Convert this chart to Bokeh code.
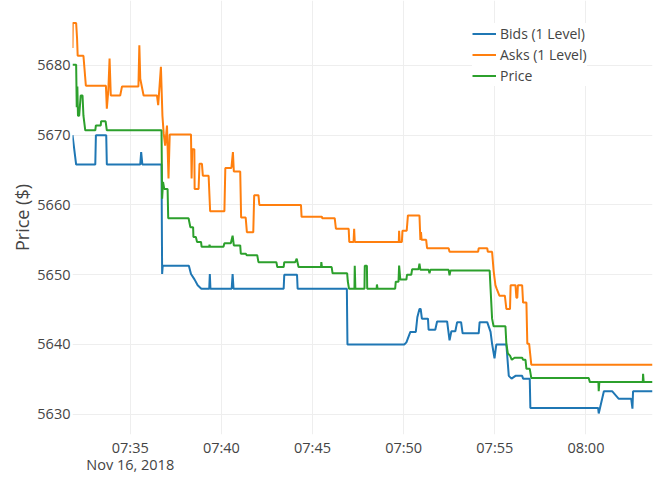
import pandas as pd
from bokeh.plotting import figure
from bokeh.models import Range1d, FixedTicker, Legend, LegendItem
from bokeh.embed import file_html
from bokeh.resources import INLINE

DATE = "2018-11-16"

bid_times = ["07:31:50","07:32:02","07:33:05","07:33:07","07:33:41","07:33:43","07:35:33","07:35:36","07:35:40","07:36:43",
             "07:36:45","07:36:47","07:38:13","07:38:20","07:38:32","07:38:42","07:38:54","07:39:20","07:39:22","07:39:24",
             "07:40:34","07:40:37","07:40:40","07:43:25","07:43:27","07:44:09","07:44:11","07:46:53","07:46:55","07:50:02",
             "07:50:09","07:50:22","07:50:40","07:50:45","07:50:52","07:50:56","07:51:00","07:51:20","07:51:22","07:51:44",
             "07:51:50","07:52:23","07:52:31","07:52:37","07:52:50","07:52:56","07:53:09","07:53:14","07:54:07","07:54:10",
             "07:54:35","07:54:46","07:54:51","07:54:59","07:55:05","07:55:38","07:55:46","07:55:55","07:56:08","07:56:30",
             "07:56:33","07:56:55","07:56:57","08:00:40","08:00:42","08:00:59","08:01:26","08:01:48","08:02:29","08:02:33",
             "08:02:35","08:03:39"]
bid_values = [5670.0,5665.8,5665.8,5670.0,5670.0,5665.8,5665.8,5667.6,5665.8,5665.8,
              5650.1,5651.3,5651.3,5650.1,5649.3,5648.5,5648.0,5648.0,5650.1,5648.0,
              5648.0,5650.1,5648.0,5648.0,5650.0,5650.0,5648.0,5648.0,5640.0,5640.0,
              5640.3,5641.8,5641.8,5643.9,5645.1,5645.1,5643.7,5643.7,5642.1,5642.1,
              5643.3,5643.3,5640.6,5641.9,5641.9,5643.2,5643.2,5641.6,5641.6,5643.2,
              5643.2,5641.8,5640.1,5638.0,5640.0,5640.0,5635.5,5635.1,5635.5,5635.5,
              5635.1,5635.1,5630.9,5630.9,5630.1,5633.3,5633.3,5632.2,5632.2,5630.8,
              5633.3,5633.3]

ask_times = ["07:31:50","07:31:51","07:32:02","07:32:05","07:32:07","07:32:26","07:32:34","07:33:40","07:33:43","07:33:48",
             "07:33:52","07:33:56","07:34:27","07:34:33","07:35:27","07:35:30","07:35:33","07:35:44","07:36:28","07:36:32",
             "07:36:41","07:36:46","07:36:50","07:36:55","07:37:01","07:37:06","07:37:10","07:38:20","07:38:22","07:38:24",
             "07:38:31","07:38:32","07:38:45","07:38:48","07:38:56","07:38:59","07:39:18","07:39:23","07:40:10","07:40:13",
             "07:40:33","07:40:38","07:40:41","07:41:02","07:41:05","07:41:20","07:41:24","07:41:45","07:41:48","07:42:02",
             "07:42:05","07:44:22","07:44:24","07:45:31","07:45:32","07:46:13","07:46:17","07:46:59","07:47:01","07:47:15",
             "07:47:17","07:47:19","07:49:44","07:49:45","07:49:47","07:49:54","07:49:56","07:50:10","07:50:14","07:50:52",
             "07:50:55","07:50:57","07:50:59","07:51:14","07:51:17","07:52:28","07:52:31","07:54:05","07:54:07","07:54:35",
             "07:54:37","07:54:51","07:54:56","07:55:02","07:55:06","07:55:15","07:55:33","07:55:38","07:55:50","07:55:52",
             "07:56:08","07:56:11","07:56:14","07:56:16","07:56:30","07:56:33","07:56:44","07:56:47","07:56:53","07:57:00",
             "08:03:39"]
ask_values = [5682.5,5686.1,5686.1,5683.9,5681.4,5681.4,5677.1,5677.1,5673.8,5676.5,
              5681.0,5675.7,5675.7,5677.0,5677.0,5682.9,5678.1,5675.7,5675.7,5674.3,
              5679.8,5672.8,5670.3,5668.5,5671.4,5663.8,5670.1,5670.1,5663.8,5668.0,
              5668.0,5662.3,5662.3,5665.9,5665.9,5664.2,5664.2,5659.1,5659.1,5665.3,
              5665.3,5667.6,5664.8,5664.8,5658.2,5658.2,5656.1,5656.1,5661.4,5661.4,
              5660.0,5660.0,5658.3,5658.3,5658.1,5658.1,5656.6,5656.6,5654.7,5654.7,
              5656.6,5654.7,5654.7,5656.3,5654.7,5654.7,5656.3,5656.3,5658.5,5658.5,
              5655.0,5656.1,5655.0,5655.0,5653.8,5653.8,5653.3,5653.3,5653.8,5653.8,
              5653.3,5653.3,5650.6,5648.5,5648.0,5647.0,5647.0,5645.1,5645.1,5648.5,
              5648.5,5646.7,5646.7,5648.5,5648.5,5646.0,5646.0,5640.1,5640.1,5637.1,
              5637.1]

price_times = ["07:31:50","07:32:02","07:32:04","07:32:06","07:32:08","07:32:12","07:32:17","07:32:23","07:32:26","07:32:32",
               "07:33:05","07:33:07","07:33:23","07:33:24","07:33:39","07:33:43","07:36:43","07:36:45","07:36:48","07:36:52",
               "07:37:03","07:37:05","07:38:12","07:38:18","07:38:27","07:38:28","07:38:36","07:38:40","07:38:53","07:38:55",
               "07:39:20","07:39:21","07:39:23","07:40:07","07:40:10","07:40:31","07:40:37","07:40:41","07:41:02","07:41:04",
               "07:41:21","07:41:23","07:41:58","07:42:02","07:43:01","07:43:04","07:43:25","07:43:27","07:44:03","07:44:08",
               "07:44:14","07:45:28","07:45:29","07:45:31","07:46:03","07:46:06","07:46:54","07:46:56","07:47:00","07:47:18",
               "07:47:19","07:47:21","07:47:51","07:47:52","07:47:59","07:48:00","07:48:31","07:48:32","07:48:34","07:49:32",
               "07:49:34","07:49:43","07:49:45","07:49:49","07:50:09","07:50:11","07:50:25","07:50:28","07:50:49","07:50:52",
               "07:50:55","07:51:22","07:51:25","07:51:28","07:52:28","07:52:31","07:52:34","07:54:43","07:54:46","07:54:51",
               "07:54:56","07:55:35","07:55:38","07:55:43","07:55:50","07:55:56","07:56:05","07:56:30","07:56:33","07:56:41",
               "07:56:44","07:56:55","07:57:00","08:00:09","08:00:13","08:00:41","08:00:42","08:00:44","08:03:07","08:03:08",
               "08:03:10","08:03:39"]
price_values = [5680.1,5680.1,5674.0,5677.0,5672.8,5672.8,5675.7,5675.7,5672.8,5670.7,
                5670.7,5671.4,5671.4,5672.0,5672.0,5670.7,5670.7,5660.9,5663.3,5662.3,
                5662.3,5658.1,5658.1,5656.8,5656.8,5655.4,5655.4,5654.7,5654.7,5654.0,
                5654.0,5654.3,5654.0,5654.0,5654.5,5654.5,5655.6,5654.2,5654.2,5653.0,
                5653.0,5652.8,5652.8,5651.8,5651.8,5651.1,5651.1,5651.8,5651.8,5652.3,
                5651.1,5651.1,5651.8,5651.1,5651.1,5650.2,5650.2,5649.1,5648.0,5648.0,
                5651.3,5648.0,5648.0,5651.3,5651.3,5648.0,5648.0,5648.6,5648.0,5648.0,
                5649.0,5649.0,5651.3,5649.3,5649.3,5650.0,5650.0,5650.8,5650.8,5651.6,
                5650.7,5650.7,5650.2,5650.7,5650.7,5649.9,5650.6,5650.6,5648.0,5643.7,
                5642.6,5642.6,5640.1,5638.7,5638.4,5637.8,5638.1,5638.1,5637.8,5637.8,
                5636.5,5636.5,5635.2,5635.2,5634.6,5634.6,5633.3,5634.6,5634.6,5635.8,
                5634.6,5634.6]

x_tick_times = ["07:35", "07:40", "07:45", "07:50", "07:55", "08:00"]
x_tick_labels = ["07:35\nNov 16, 2018", "07:40", "07:45", "07:50", "07:55", "08:00"]
y_ticks = [5630, 5640, 5650, 5660, 5670, 5680]

series_names = ["Bids (1 Level)", "Asks (1 Level)", "Price"]
series_colors = ["#1f77b4", "#ff7f0e", "#2ca02c"]


def to_dt(ts):
    return pd.to_datetime([f"{DATE} {t}" for t in ts])


def to_ms(ts):
    return [int(v) for v in (to_dt(ts).astype("int64") // 10**6)]


bid_x, ask_x, price_x = to_dt(bid_times), to_dt(ask_times), to_dt(price_times)
x_start = min(bid_x.min(), ask_x.min(), price_x.min())
x_end = max(bid_x.max(), ask_x.max(), price_x.max())

FONT = "Open Sans"
TXT = "#444444"

p = figure(frame_width=580, frame_height=434, x_axis_type="datetime",
           output_backend="svg", toolbar_location=None,
           min_border_left=72, min_border_right=1, min_border_top=0, min_border_bottom=38,
           x_range=Range1d(x_start, x_end), y_range=Range1d(5627.09, 5689.32))
p.outline_line_color = None
p.background_fill_color = "white"
p.border_fill_color = "white"

renderers = []
for xs, ys, c in [(bid_x, bid_values, series_colors[0]),
                  (ask_x, ask_values, series_colors[1]),
                  (price_x, price_values, series_colors[2])]:
    renderers.append(p.line(xs, ys, line_color=c, line_width=2))

xt = to_ms(x_tick_times)
p.xaxis.ticker = FixedTicker(ticks=xt)
p.xaxis.major_label_overrides = {t: lab for t, lab in zip(xt, x_tick_labels)}
p.yaxis.ticker = FixedTicker(ticks=y_ticks)
p.xgrid.ticker = FixedTicker(ticks=xt)
p.ygrid.ticker = FixedTicker(ticks=y_ticks)
p.grid.grid_line_color = "#eeeeee"
p.grid.grid_line_width = 1

for ax in (p.xaxis[0], p.yaxis[0]):
    ax.axis_line_color = None
    ax.major_tick_line_color = None
    ax.minor_tick_line_color = None
    ax.major_tick_out = 0
    ax.major_tick_in = 0
    ax.minor_tick_out = 0
    ax.minor_tick_in = 0
    ax.major_label_text_font = FONT
    ax.major_label_text_font_size = "14.5px"
    ax.major_label_text_color = TXT
p.xaxis.major_label_standoff = 3
p.xaxis.major_label_text_line_height = 0.9
p.yaxis.major_label_standoff = 2
p.yaxis.axis_label = "Price ($)"
p.yaxis.axis_label_text_font = FONT
p.yaxis.axis_label_text_font_size = "18px"
p.yaxis.axis_label_text_font_style = "normal"
p.yaxis.axis_label_text_color = TXT
p.yaxis.axis_label_standoff = 0

legend = Legend(items=[LegendItem(label=n, renderers=[r]) for n, r in zip(series_names, renderers)],
                location=(400, 348))
legend.border_line_color = None
legend.background_fill_color = "white"
legend.background_fill_alpha = 1.0
legend.padding = 5
legend.margin = 0
legend.spacing = 0
legend.glyph_width = 24
legend.glyph_height = 21
legend.label_height = 21
legend.label_standoff = 4
legend.label_text_font = FONT
legend.label_text_font_size = "14px"
legend.label_text_color = TXT
p.add_layout(legend)

open("out.html", "w").write(file_html(p, INLINE))
